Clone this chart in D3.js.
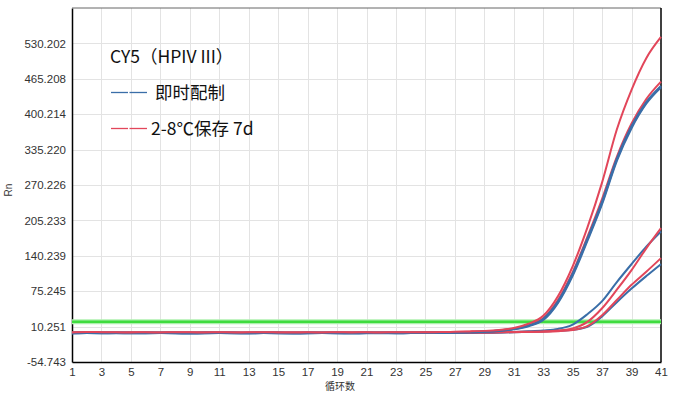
<!DOCTYPE html>
<html lang="zh">
<head>
<meta charset="UTF-8">
<script src="https://d3js.org/d3.v7.min.js"></script>
<style>
  body { margin: 0; background: #fff; }
  svg { display: block; }
</style>
</head>
<body>
<script>
// cycles 1..41
const cycles = d3.range(1, 42);

// Y axis tick labels (as printed by the instrument)
const yTickLabels = ["-54.743", "10.251", "75.245", "140.239", "205.233",
                     "270.226", "335.220", "400.214", "465.208", "530.202"];
const yMax = 595.196;
const threshold = 19.3;

// fresh (即时配制) - blue
const freshHighA = [-1.6,-1.4,-1.5,-1.4,-1.6,-1.5,-1.4,-1.5,-1.6,-1.5,-1.4,-1.5,-1.6,-1.4,-1.5,-1.6,-1.5,-1.4,-1.5,-1.6,-1.5,-1.4,-1.5,-1.4,-1.3,-1.1,-0.6,0.1,1.0,2.6,5.6,11.2,22.5,54,104,168,236,315,375,420,450];
const freshHighB = [-1.5,-1.3,-1.4,-1.5,-1.4,-1.4,-1.3,-1.4,-1.5,-1.4,-1.3,-1.4,-1.5,-1.4,-1.4,-1.5,-1.4,-1.3,-1.4,-1.5,-1.4,-1.3,-1.4,-1.3,-1.2,-1.0,-0.5,0.2,1.2,2.8,6.0,12.0,24,56,107,171,239,318,378,422,452];
const freshLowA  = [-1.7,-1.6,-1.7,-1.6,-1.7,-1.7,-1.6,-1.7,-1.8,-1.7,-1.6,-1.7,-1.7,-1.6,-1.7,-1.8,-1.7,-1.6,-1.7,-1.7,-1.6,-1.7,-1.7,-1.6,-1.6,-1.5,-1.4,-1.2,-0.9,-0.4,0.4,1.6,3.2,6.0,14,33,57,92,125,157,185];
const freshLowB  = [-1.8,-1.7,-1.8,-1.7,-1.8,-1.8,-1.7,-1.8,-1.9,-1.8,-1.7,-1.8,-1.8,-1.7,-1.8,-1.9,-1.8,-1.7,-1.8,-1.8,-1.7,-1.8,-1.8,-1.7,-1.7,-1.6,-1.5,-1.3,-1.1,-0.7,-0.2,0.6,1.4,2.4,4.4,10,29,55,80,103,125];

// stored 2-8 C for 7 days - red
const storedHighA = [-0.4,0.4,0.1,-0.3,-0.5,-0.2,-0.6,-0.1,-0.3,-0.4,-0.2,-0.5,-0.3,-0.1,-0.4,-0.6,-0.3,-0.5,-0.2,-0.4,-0.3,-0.5,-0.2,-0.3,-0.1,0.2,0.7,1.4,2.4,4.2,7.6,15.5,30,66,121,192,275,372,445,503,542];
const storedHighB = [-0.6,-0.3,-0.4,-0.6,-0.5,-0.4,-0.7,-0.5,-0.6,-0.4,-0.5,-0.6,-0.4,-0.5,-0.6,-0.7,-0.5,-0.4,-0.6,-0.5,-0.4,-0.6,-0.5,-0.4,-0.3,-0.1,0.4,1.0,1.8,3.3,6.5,13,25.5,59,110,175,245,322,383,428,460];
const storedLowA  = [-0.8,-0.6,-0.7,-0.8,-0.6,-0.7,-0.9,-0.7,-0.8,-0.6,-0.7,-0.8,-0.9,-0.7,-0.6,-0.8,-0.7,-0.9,-0.8,-0.7,-0.6,-0.8,-0.7,-0.8,-0.7,-0.6,-0.5,-0.4,-0.2,0.1,0.4,0.8,1.4,3.0,7,19,44,78,114,154,191];
const storedLowB  = [-0.9,-0.8,-0.9,-1.0,-0.8,-0.9,-1.0,-0.9,-1.0,-0.8,-0.9,-1.0,-1.0,-0.9,-0.8,-1.0,-0.9,-1.0,-0.9,-0.9,-0.8,-1.0,-0.9,-0.9,-0.8,-0.8,-0.7,-0.6,-0.5,-0.3,0.0,0.4,0.9,1.8,4,11,31,59,87,111,136];

const legendTitle = "CY5（HPIV III）";
const legendNames = ["即时配制", "2-8℃保存 7d"];

const blue = "#3a6ea8", red = "#e2465a", green = "#3fdc3f";

const width = 673, height = 396;
const margin = {left: 72, right: 12, top: 8, bottom: 34};

const svg = d3.select("body").append("svg")
  .attr("width", width).attr("height", height);

const x = d3.scaleLinear().domain([1, 41]).range([margin.left, width - margin.right]);
const y = d3.scaleLinear().domain([+yTickLabels[0], yMax]).range([height - margin.bottom, margin.top]);

const yTicks = yTickLabels.map(Number);
const xTicks = cycles.filter(c => c % 2 === 1);

// grid
const grid = svg.append("g").attr("stroke", "#e3e3e3").attr("stroke-width", 1);
grid.selectAll(".h").data(yTicks.slice(1)).join("line")
  .attr("x1", x(1)).attr("x2", x(41))
  .attr("y1", d => Math.round(y(d)) + 0.5).attr("y2", d => Math.round(y(d)) + 0.5);
grid.selectAll(".v").data(xTicks.slice(1, -1)).join("line")
  .attr("y1", y(yMax)).attr("y2", y(yTicks[0]))
  .attr("x1", d => Math.round(x(d)) + 0.5).attr("x2", d => Math.round(x(d)) + 0.5);

// axes
const xAxis = d3.axisBottom(x).tickValues(xTicks).tickSize(0).tickPadding(6).tickFormat(d3.format("d"));
const yAxis = d3.axisLeft(y).tickValues(yTicks).tickSize(0).tickPadding(6).tickFormat((d, i) => yTickLabels[i]);

const gx = svg.append("g").attr("transform", `translate(0,${y(yTicks[0])})`).call(xAxis);
const gy = svg.append("g").attr("transform", `translate(${x(1)},0)`).call(yAxis);
[gx, gy].forEach(g => {
  g.select(".domain").attr("stroke", "#000").attr("stroke-width", 1.5);
  g.selectAll("text").attr("font-family", "Liberation Sans, Arial, sans-serif")
    .attr("font-size", 11.5).attr("fill", "#333");
});

// top + right border
svg.append("line").attr("x1", x(1)).attr("x2", x(41)).attr("y1", y(yMax)).attr("y2", y(yMax))
  .attr("stroke", "#666").attr("stroke-width", 1);
svg.append("line").attr("x1", x(41)).attr("x2", x(41)).attr("y1", y(yMax)).attr("y2", y(yTicks[0]))
  .attr("stroke", "#000").attr("stroke-width", 1.5);

// axis titles
svg.append("text").attr("x", 340).attr("y", 390).attr("text-anchor", "middle")
  .attr("font-family", "Noto Sans CJK SC, sans-serif").attr("font-size", 10).attr("fill", "#333")
  .text("循环数");
svg.append("text").attr("transform", "translate(12,190) rotate(-90)").attr("text-anchor", "middle")
  .attr("font-family", "Liberation Sans, Arial, sans-serif").attr("font-size", 10).attr("fill", "#333")
  .text("Rn");

// threshold line
svg.append("line").attr("x1", x(1)).attr("x2", x(41)).attr("y1", y(threshold)).attr("y2", y(threshold))
  .attr("stroke", "#aef0ae").attr("stroke-width", 5);
svg.append("line").attr("x1", x(1)).attr("x2", x(41)).attr("y1", y(threshold)).attr("y2", y(threshold))
  .attr("stroke", green).attr("stroke-width", 2.5);

// amplification curves
const line = d3.line().x((d, i) => x(cycles[i])).y(d => y(d)).curve(d3.curveMonotoneX);
const curves = svg.append("g").attr("fill", "none").attr("stroke-linejoin", "round");
const order = [
  {v: freshLowB, c: blue, w: 2}, {v: freshLowA, c: blue, w: 2},
  {v: storedLowB, c: red, w: 2}, {v: storedLowA, c: red, w: 2},
  {v: storedHighB, c: red, w: 2},
  {v: freshHighB, c: blue, w: 2.3}, {v: freshHighA, c: blue, w: 2.3},
  {v: storedHighA, c: red, w: 2}
];
curves.selectAll("path").data(order).join("path")
  .attr("stroke", d => d.c).attr("stroke-width", d => d.w).attr("d", d => line(d.v));

// legend
const lg = svg.append("g").attr("font-family", "Noto Sans CJK SC, sans-serif").attr("fill", "#111");
lg.append("text").attr("x", 110).attr("y", 63).attr("font-size", 17.5).text(legendTitle);
[blue, red].forEach((c, i) => {
  const yy = 92.5 + i * 36;
  lg.append("line").attr("x1", 111).attr("x2", 128).attr("y1", yy).attr("y2", yy).attr("stroke", c).attr("stroke-width", 1.3);
  lg.append("line").attr("x1", 129.5).attr("x2", 147).attr("y1", yy).attr("y2", yy).attr("stroke", c).attr("stroke-width", 1.3);
  lg.append("text").attr("x", i === 0 ? 155 : 151).attr("y", yy + 6.5).attr("font-size", 17.5).text(legendNames[i]);
});
</script>
</body>
</html>
